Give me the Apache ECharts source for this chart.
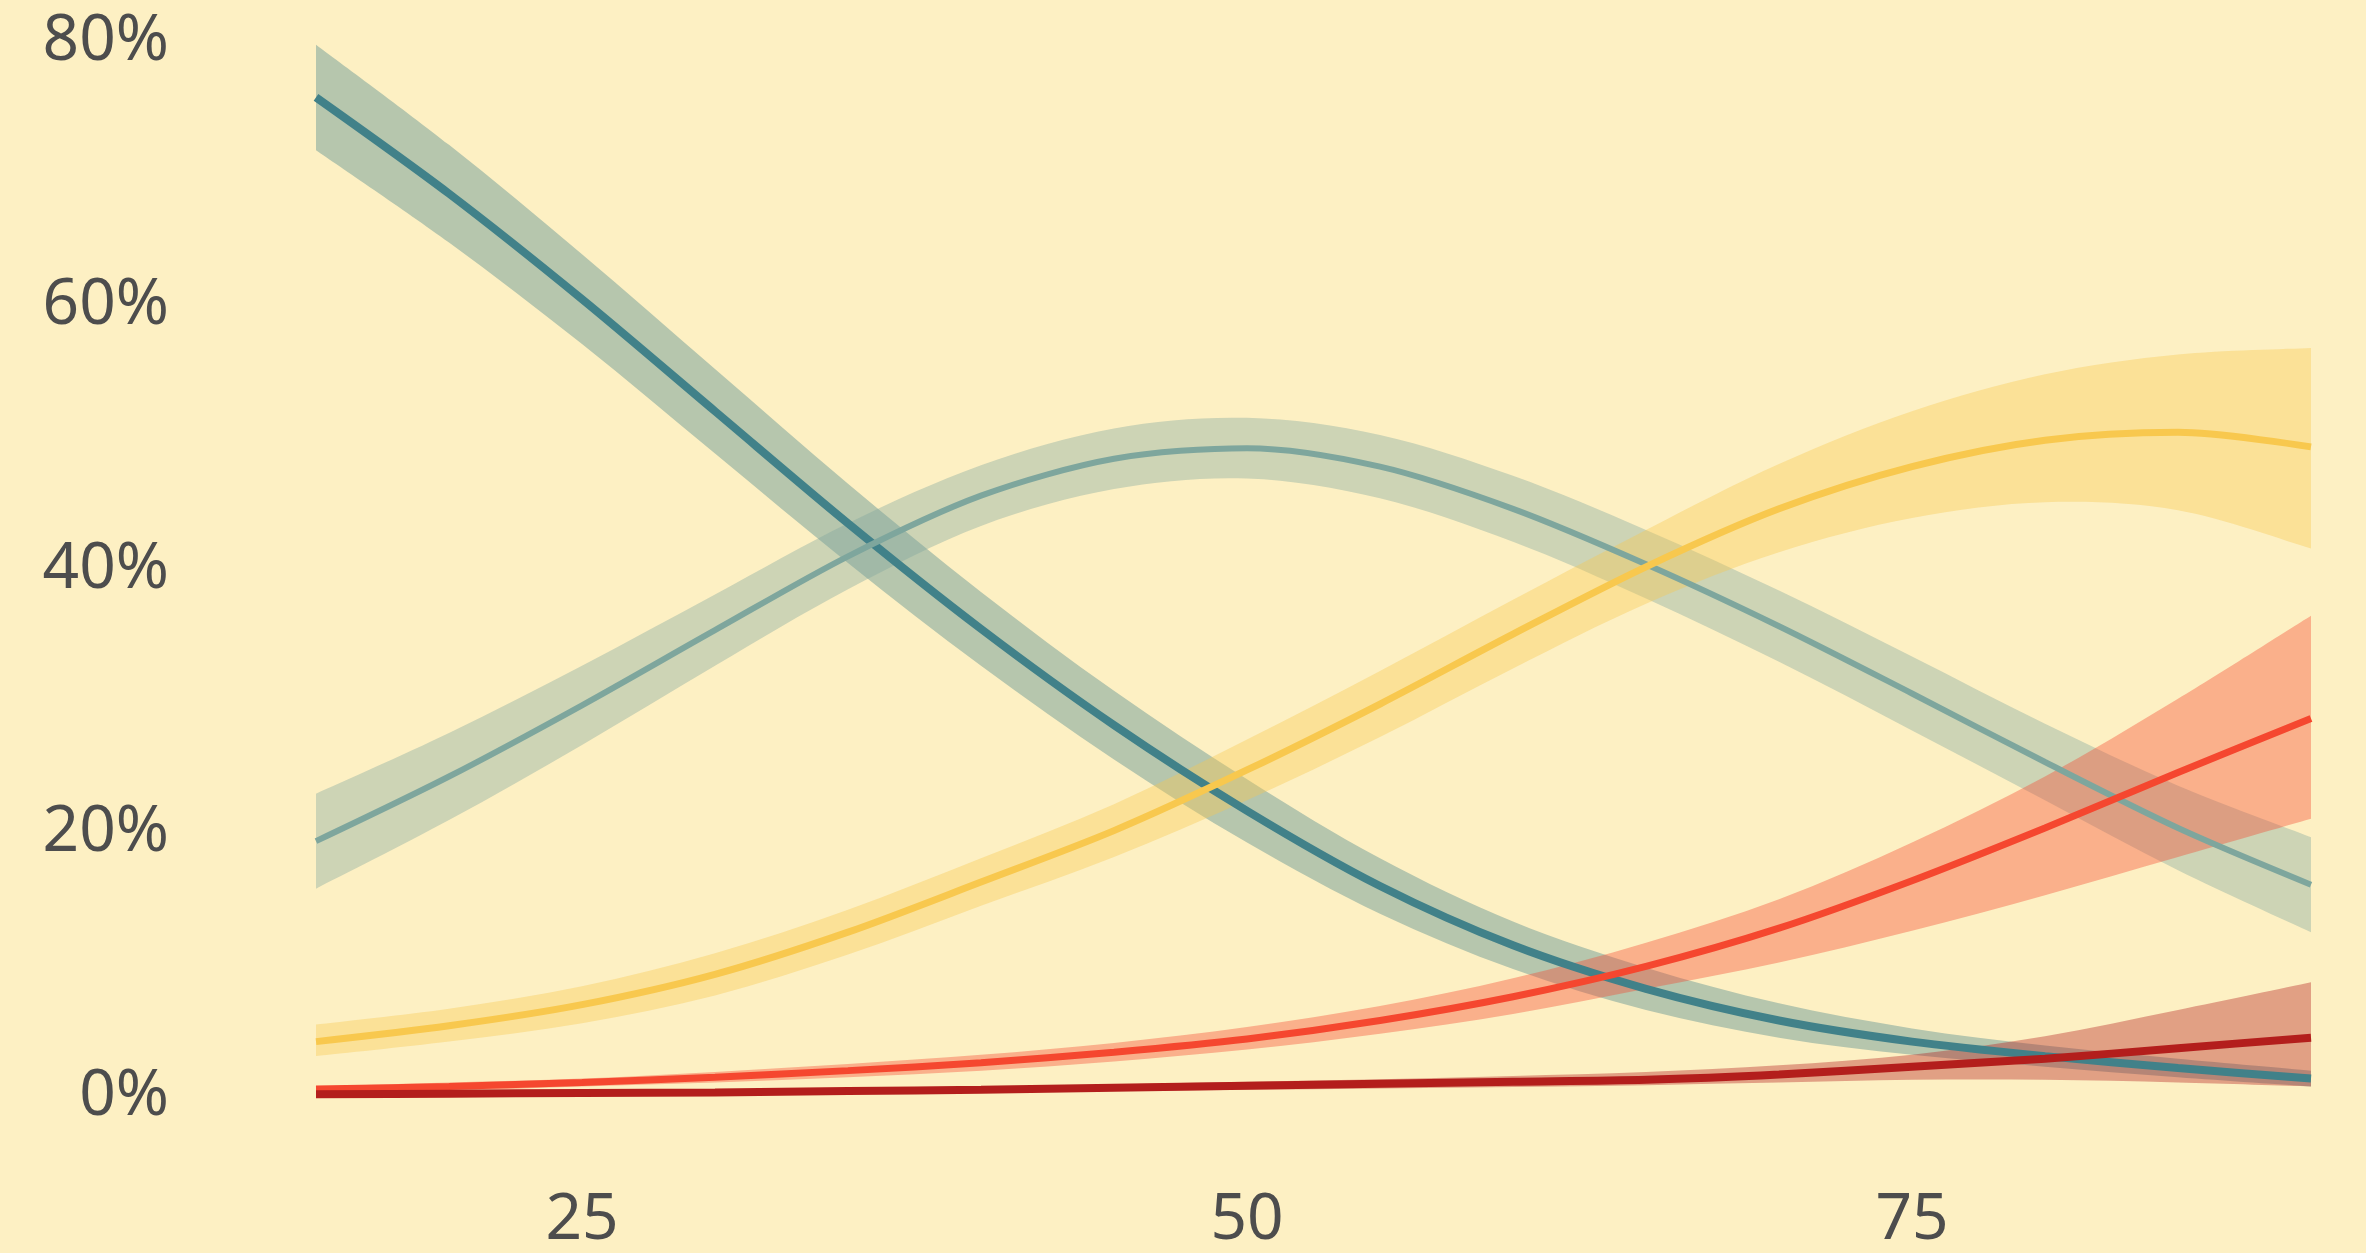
<!DOCTYPE html>
<html>
<head>
<meta charset="utf-8">
<title>chart</title>
<script src="https://cdn.jsdelivr.net/npm/echarts@6/dist/echarts.min.js"></script>
<style>
  html, body { margin: 0; padding: 0; background: #fdf0c3; }
  #chart { width: 2366px; height: 1253px; }
</style>
</head>
<body>
<div id="chart"></div>
<script>
// x positions
const xValues = [15, 20, 25, 30, 35, 40, 45, 50, 55, 60, 65, 70, 75, 80, 85, 90];
const xTicks = [25, 50, 75];
const yTicks = [0, 20, 40, 60, 80];

// dark teal
const tealMid = [75.8, 68.5, 60.5, 52.0, 43.5, 35.5, 28.2, 21.7, 16.0, 11.5, 8.2, 5.8, 4.2, 3.1, 2.2, 1.4];
const tealLow = [71.8, 64.8, 57.1, 48.8, 40.5, 32.7, 25.6, 19.3, 13.9, 9.7, 6.6, 4.5, 3.2, 2.3, 1.5, 0.8];
const tealHigh = [79.8, 72.2, 63.9, 55.2, 46.5, 38.3, 30.8, 24.1, 18.1, 13.3, 9.8, 7.1, 5.2, 3.9, 2.9, 2.0];

// light teal
const sageMid = [19.4, 24.3, 29.7, 35.4, 41.0, 45.6, 48.4, 49.2, 47.8, 44.6, 40.4, 35.7, 30.6, 25.4, 20.4, 16.1];
const sageLow = [15.8, 21.0, 26.7, 32.7, 38.5, 43.3, 46.1, 46.9, 45.4, 42.1, 37.8, 33.0, 27.8, 22.5, 17.2, 12.5];
const sageHigh = [23.0, 27.6, 32.7, 38.1, 43.5, 47.9, 50.7, 51.5, 50.2, 47.1, 43.0, 38.4, 33.4, 28.3, 23.6, 19.7];

// yellow
const goldMid = [4.2, 5.4, 7.0, 9.3, 12.5, 16.3, 20.2, 24.8, 29.8, 35.1, 40.2, 44.6, 47.8, 49.8, 50.4, 49.3];
const goldLow = [3.1, 4.2, 5.6, 7.7, 10.8, 14.5, 18.2, 22.5, 27.3, 32.5, 37.4, 41.3, 43.9, 45.1, 44.5, 41.6];
const goldHigh = [5.5, 6.7, 8.4, 10.9, 14.2, 18.1, 22.2, 27.1, 32.3, 37.7, 43.0, 48.0, 52.0, 54.8, 56.3, 56.8];

// red
const redMid = [0.6, 0.8, 1.1, 1.5, 2.0, 2.6, 3.4, 4.4, 5.8, 7.6, 9.9, 12.8, 16.4, 20.4, 24.6, 28.7];
const redLow = [0.4, 0.5, 0.8, 1.1, 1.5, 2.0, 2.7, 3.6, 4.8, 6.3, 8.2, 10.2, 12.6, 15.3, 18.2, 21.1];
const redHigh = [0.8, 1.1, 1.4, 1.9, 2.5, 3.2, 4.1, 5.3, 6.9, 9.0, 11.7, 15.0, 19.3, 24.3, 30.2, 36.5];

// dark red
const maroonMid = [0.2, 0.25, 0.3, 0.35, 0.45, 0.55, 0.7, 0.85, 1.0, 1.15, 1.3, 1.7, 2.3, 2.9, 3.7, 4.5];
const maroonLow = [0.1, 0.1, 0.2, 0.2, 0.3, 0.35, 0.45, 0.55, 0.65, 0.75, 0.9, 1.1, 1.3, 1.3, 1.1, 0.8];
const maroonHigh = [0.3, 0.4, 0.4, 0.5, 0.6, 0.75, 0.95, 1.15, 1.35, 1.6, 1.9, 2.4, 3.2, 4.6, 6.6, 8.7];

const groups = [
  { name: "teal", mid: tealMid, low: tealLow, high: tealHigh, color: "#418189", width: 8 },
  { name: "sage", mid: sageMid, low: sageLow, high: sageHigh, color: "#7ea69d", width: 6 },
  { name: "gold", mid: goldMid, low: goldLow, high: goldHigh, color: "#f8c84e", width: 7 },
  { name: "red", mid: redMid, low: redLow, high: redHigh, color: "#f5472f", width: 7 },
  { name: "maroon", mid: maroonMid, low: maroonLow, high: maroonHigh, color: "#b31e1c", width: 8 }
];

// catmull-rom through pixel points, as bezier segments
function curveTo(pts) {
  let d = "";
  for (let i = 0; i < pts.length - 1; i++) {
    const p0 = pts[i - 1] || pts[i];
    const p1 = pts[i];
    const p2 = pts[i + 1];
    const p3 = pts[i + 2] || pts[i + 1];
    const c1 = [p1[0] + (p2[0] - p0[0]) / 6, p1[1] + (p2[1] - p0[1]) / 6];
    const c2 = [p2[0] - (p3[0] - p1[0]) / 6, p2[1] - (p3[1] - p1[1]) / 6];
    d += " C" + c1[0] + "," + c1[1] + " " + c2[0] + "," + c2[1] + " " + p2[0] + "," + p2[1];
  }
  return d;
}

function bandSeries(g) {
  return {
    name: g.name + "-band",
    type: "custom",
    silent: true,
    data: xValues.map((x, i) => [x, g.low[i], g.high[i]]),
    encode: { x: 0, y: [1, 2] },
    renderItem: function(params, api) {
      if (params.dataIndex !== 0) return;
      const up = xValues.map((x, i) => api.coord([x, g.high[i]]));
      const lo = xValues.map((x, i) => api.coord([x, g.low[i]])).reverse();
      const d = "M" + up[0][0] + "," + up[0][1] + curveTo(up) +
        " L" + lo[0][0] + "," + lo[0][1] + curveTo(lo) + " Z";
      return {
        type: "path",
        shape: { pathData: d },
        style: { fill: g.color, opacity: 0.38 }
      };
    }
  };
}

let series = [];
groups.forEach((g) => {
  series.push(bandSeries(g));
  series.push({
    name: g.name,
    type: "line",
    data: xValues.map((x, i) => [x, g.mid[i]]),
    symbol: "none",
    smooth: 0.3,
    silent: true,
    lineStyle: { color: g.color, width: g.width, cap: "butt" }
  });
});

var chart = echarts.init(document.getElementById("chart"));
chart.setOption({
  backgroundColor: "#fdf0c3",
  animation: false,
  grid: {
    left: 316,
    right: 55,
    top: 42,
    bottom: 156
  },
  xAxis: {
    type: "value",
    min: 15,
    max: 90,
    axisLine: { show: false },
    axisTick: { show: false },
    splitLine: { show: false },
    axisLabel: {
      customValues: xTicks,
      margin: 92,
      fontSize: 64,
      fontFamily: "Noto Sans",
      color: "#4d4d4d"
    }
  },
  yAxis: {
    type: "value",
    min: 0,
    max: 80,
    interval: 20,
    axisLine: { show: false },
    axisTick: { show: false },
    splitLine: { show: false },
    axisLabel: {
      customValues: yTicks,
      margin: 147,
      fontSize: 64,
      fontFamily: "Noto Sans",
      color: "#4d4d4d",
      formatter: (v) => v + "%"
    }
  },
  series: series
});
</script>
</body>
</html>
